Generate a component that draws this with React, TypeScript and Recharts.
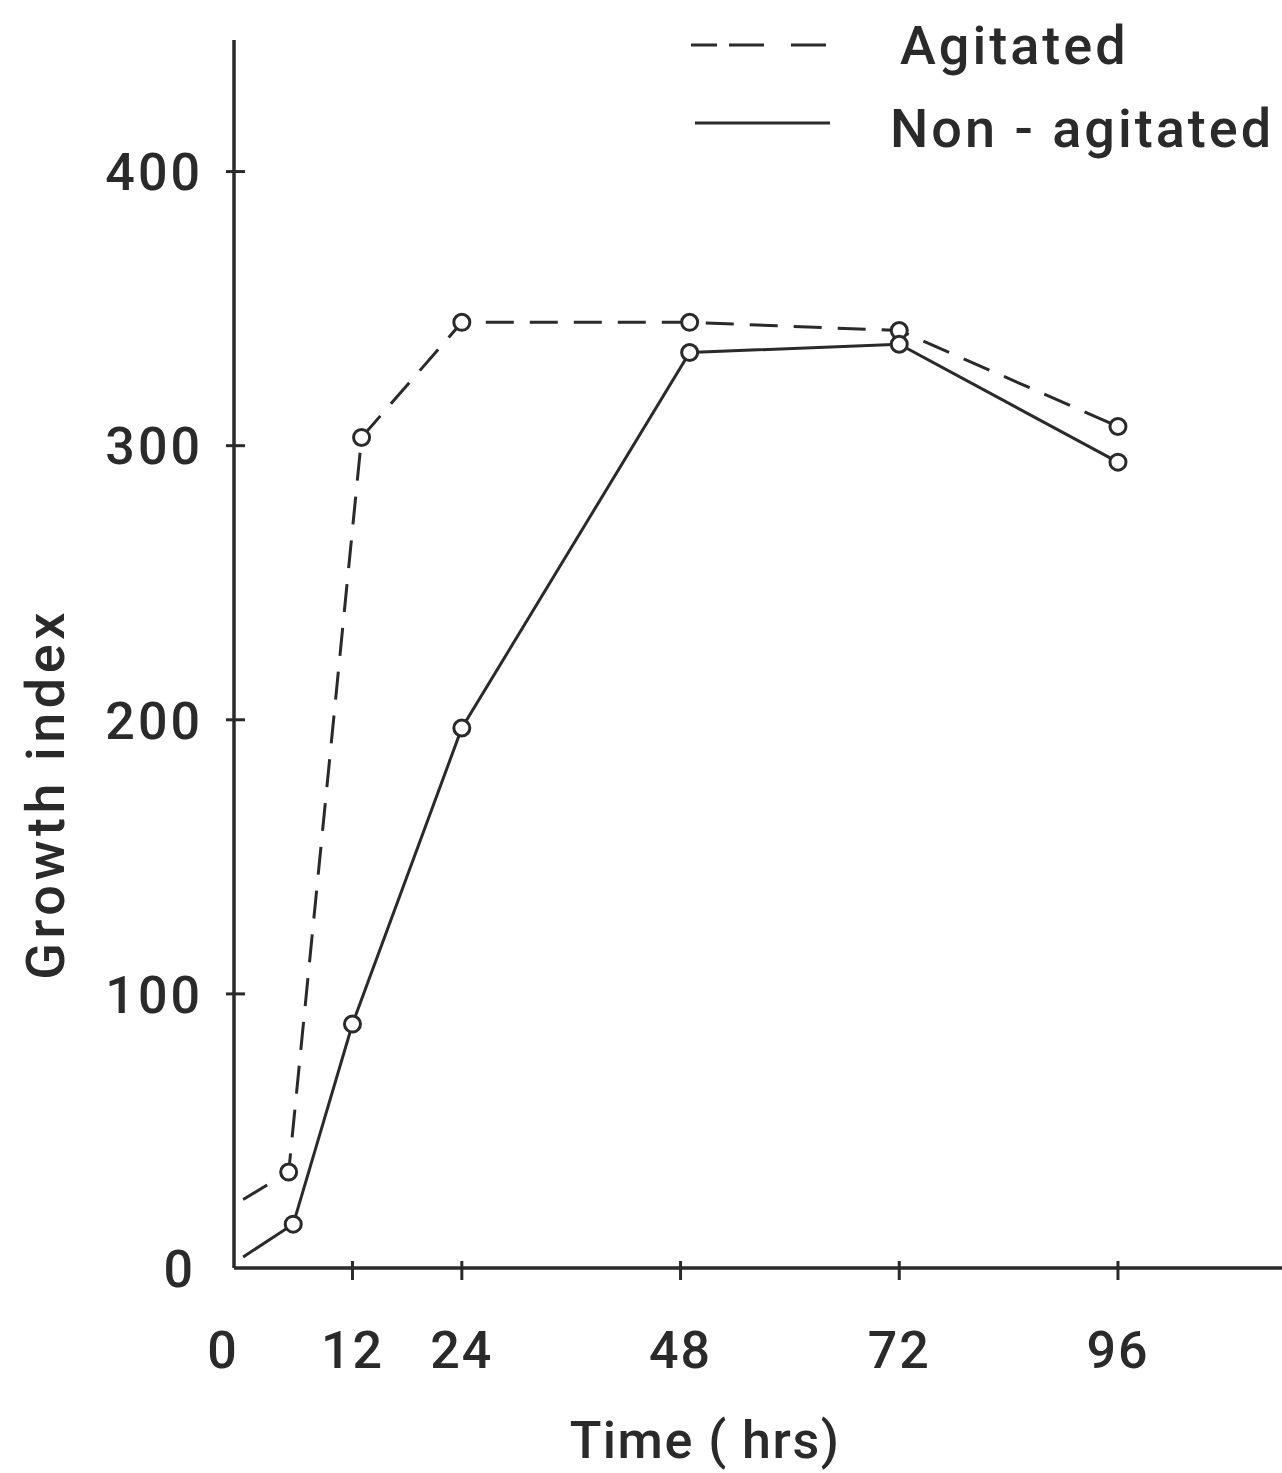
import React from 'react';
import { LineChart, Line, XAxis, YAxis, Legend } from 'recharts';

// ---- data ----
const agitatedHours = [0, 5, 13, 24, 49, 72, 96];
const agitatedIndex = [25, 35, 303, 345, 345, 342, 307];
const nonAgitatedHours = [0, 5.5, 12, 24, 49, 72, 96];
const nonAgitatedIndex = [4, 16, 89, 197, 334, 337, 294];
const timeTicks = [0, 12, 24, 48, 72, 96];
const indexTicks = [0, 100, 200, 300, 400];
const seriesNames = ['Agitated', 'Non - agitated'];
const xTitle = 'Time ( hrs)';
const yTitle = 'Growth index';

const agitatedData = agitatedHours.map((t, i) => ({ t, v: agitatedIndex[i] }));
const nonAgitatedData = nonAgitatedHours.map((t, i) => ({ t, v: nonAgitatedIndex[i] }));

const INK = '#2a2a2a';
const FONT = 'Roboto, "DejaVu Sans", sans-serif';

const OpenDot = (props: any) => {
  const { cx, cy, index } = props;
  if (index === 0 || cx == null || cy == null) return <g key={`e-${index}`} />;
  return <circle key={`c-${index}`} cx={cx} cy={cy} r={8} fill="#fff" stroke={INK} strokeWidth={3} />;
};

const YTick = (props: any) => {
  const { x, y, payload } = props;
  return (
    <g>
      {payload.value !== 0 && <line x1={x - 8} x2={x + 11} y1={y} y2={y} stroke={INK} strokeWidth={3} />}
      <text
        x={x - (payload.value === 0 ? 38 : 31)}
        y={y}
        dy="0.36em"
        textAnchor="end"
        fill={INK}
        fontFamily={FONT}
        fontWeight={500}
        fontSize={52}
        letterSpacing={3}
      >
        {payload.value}
      </text>
    </g>
  );
};

const XTick = (props: any) => {
  const { x, y, payload } = props;
  return (
    <g>
      {payload.value !== 0 && <line x1={x} x2={x} y1={y - 7} y2={y + 12} stroke={INK} strokeWidth={3} />}
      <text
        x={x + (payload.value === 0 ? -20 : 0)}
        y={y + 100}
        textAnchor="middle"
        fill={INK}
        fontFamily={FONT}
        fontWeight={500}
        fontSize={52}
        letterSpacing={2}
      >
        {payload.value}
      </text>
    </g>
  );
};

const YTitle = (props: any) => {
  const vb = props.viewBox || {};
  const cx = (vb.x || 0) + 64;
  const cy = (vb.y || 0) + (vb.height || 0) / 2 + 140;
  return (
    <text
      x={cx}
      y={cy}
      transform={`rotate(-90 ${cx} ${cy})`}
      textAnchor="middle"
      fill={INK}
      fontFamily={FONT}
      fontWeight={500}
      fontSize={54}
      letterSpacing={4.5}
    >
      {yTitle}
    </text>
  );
};

const XTitle = (props: any) => {
  const vb = props.viewBox || {};
  const cx = 705;
  const cy = (vb.y || 0) + 190;
  return (
    <text x={cx} y={cy} textAnchor="middle" fill={INK} fontFamily={FONT} fontWeight={500} fontSize={52} letterSpacing={1.5}>
      {xTitle}
    </text>
  );
};

const LegendBox = () => (
  <svg width={602} height={170} style={{ display: 'block' }}>
    <line x1={11} x2={146} y1={45} y2={45} stroke={INK} strokeWidth={3} strokeDasharray="26 12 35 27 36" />
    <text x={220} y={64} fill={INK} fontFamily={FONT} fontWeight={500} fontSize={54} letterSpacing={3}>
      {seriesNames[0]}
    </text>
    <line x1={15} x2={150} y1={123} y2={123} stroke={INK} strokeWidth={3} />
    <text x={210} y={147} fill={INK} fontFamily={FONT} fontWeight={500} fontSize={54} letterSpacing={3}>
      {seriesNames[1]}
    </text>
  </svg>
);

export default function App() {
  return (
    <div style={{ position: 'absolute', left: 0, top: 0, width: 1282, height: 1473, background: '#fff' }}>
      <LineChart width={1282} height={1473} margin={{ top: 40, right: 0, bottom: 55, left: 0 }}>
        <XAxis
          type="number"
          dataKey="t"
          domain={[-1, 114]}
          ticks={timeTicks}
          interval={0}
          height={150}
          tickSize={0}
          tickMargin={0}
          tickLine={false}
          axisLine={{ stroke: INK, strokeWidth: 3.5 }}
          tick={<XTick />}
          allowDataOverflow
          label={{ value: xTitle, content: <XTitle /> }}
        />
        <YAxis
          type="number"
          dataKey="v"
          domain={[0, 448]}
          ticks={indexTicks}
          interval={0}
          width={234}
          tickSize={0}
          tickMargin={0}
          tickLine={false}
          axisLine={{ stroke: INK, strokeWidth: 3.5 }}
          tick={<YTick />}
          allowDataOverflow
          label={{ value: yTitle, content: <YTitle /> }}
        />
        <Legend
          layout="vertical"
          align="center"
          verticalAlign="middle"
          content={<LegendBox />}
          wrapperStyle={{ left: 680, top: 0, width: 602, height: 170 }}
        />
        <Line
          data={agitatedData}
          dataKey="v"
          name={seriesNames[0]}
          type="linear"
          stroke={INK}
          strokeWidth={3}
          strokeDasharray="28 16"
          dot={OpenDot}
          activeDot={false}
          isAnimationActive={false}
        />
        <Line
          data={nonAgitatedData}
          dataKey="v"
          name={seriesNames[1]}
          type="linear"
          stroke={INK}
          strokeWidth={3}
          dot={OpenDot}
          activeDot={false}
          isAnimationActive={false}
        />
      </LineChart>
    </div>
  );
}
